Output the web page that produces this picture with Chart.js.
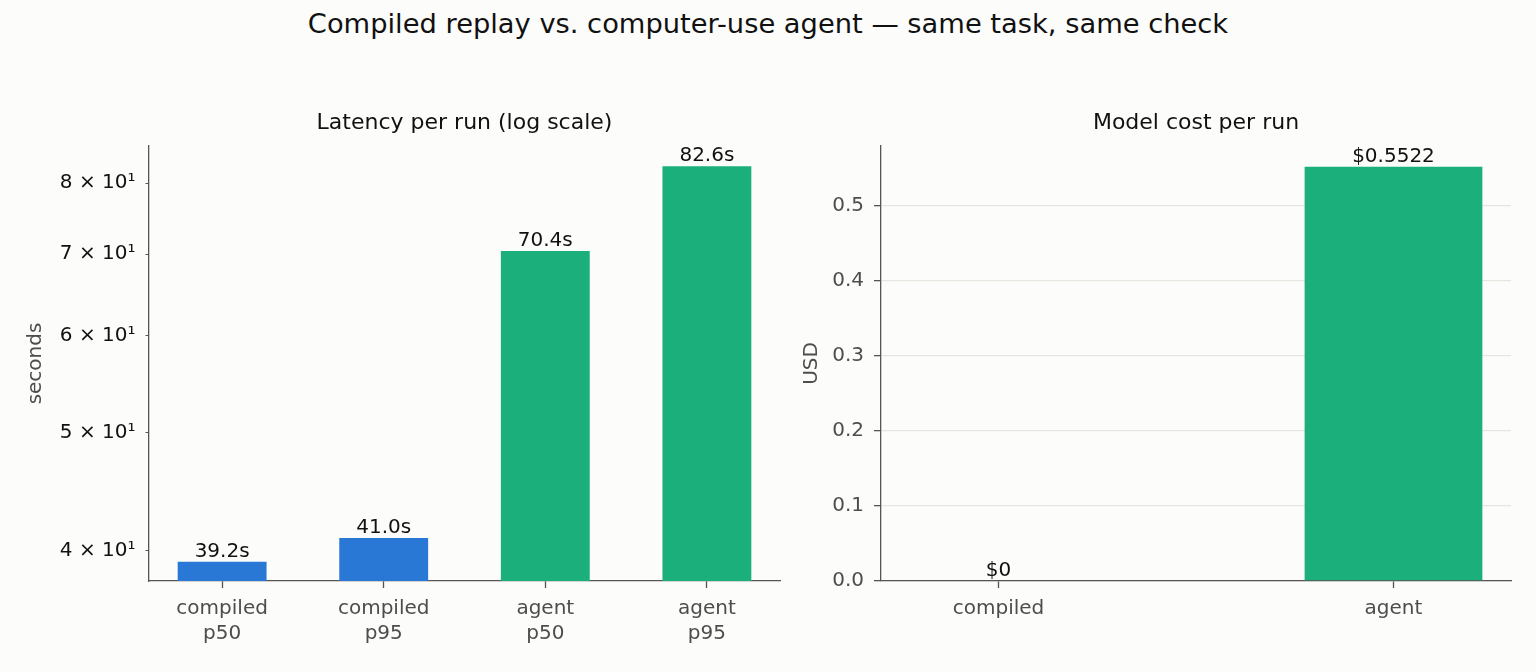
<!DOCTYPE html>
<html>
<head>
<meta charset="utf-8">
<script src="https://cdn.jsdelivr.net/npm/chart.js@4"></script>
<style>
  html, body { margin: 0; padding: 0; background: #fcfcfa; }
  body { width: 1536px; height: 672px; position: relative; overflow: hidden; font-family: "DejaVu Sans", sans-serif; }
  #suptitle { position: absolute; left: 0; top: 8px; width: 1536px; text-align: center; font-size: 27.3px; line-height: 32px; color: #111; }
  .box { position: absolute; top: 0; height: 672px; }
  #left { left: 0; width: 800px; }
  #right { left: 790px; width: 746px; }
</style>
</head>
<body>
<div id="suptitle">Compiled replay vs. computer-use agent — same task, same check</div>
<div class="box" id="left"><canvas id="latencyChart"></canvas></div>
<div class="box" id="right"><canvas id="costChart"></canvas></div>
<script>
// data
const latencyLabels = ['compiled\np50', 'compiled\np95', 'agent\np50', 'agent\np95'];
const latencySeconds = [39.2, 41.0, 70.4, 82.6];
const latencyTicks = [40, 50, 60, 70, 80];
const costLabels = ['compiled', 'agent'];
const costUsd = [0, 0.5522];
const costTicks = [0, 0.1, 0.2, 0.3, 0.4, 0.5];

const BLUE = '#2a78d6';
const GREEN = '#1bb07b';
const AXIS = '#555555';
const GREY_TEXT = '#4d4d4d';
const FONT = 'DejaVu Sans';

Chart.defaults.font.family = FONT;
Chart.defaults.animation = false;

// labels over the bars
const barLabels = {
  id: 'barLabels',
  afterDatasetsDraw(chart, args, opts) {
    const ctx = chart.ctx;
    const meta = chart.getDatasetMeta(0);
    const values = chart.data.datasets[0].data;
    ctx.save();
    ctx.font = '20px "' + FONT + '"';
    ctx.fillStyle = '#111';
    ctx.textAlign = 'center';
    ctx.textBaseline = 'alphabetic';
    meta.data.forEach((bar, i) => {
      ctx.fillText(opts.format(values[i].y), bar.x, bar.y - 5);
    });
    ctx.restore();
  }
};

function xAxis(labels, min, max) {
  return {
    type: 'linear',
    min: min,
    max: max,
    offset: false,
    afterBuildTicks: s => { s.ticks = labels.map((l, i) => ({ value: i })); },
    afterFit: s => { s.height = 91; },
    ticks: {
      autoSkip: false,
      maxRotation: 0,
      padding: 8,
      color: GREY_TEXT,
      font: { size: 20, lineHeight: 1.25 },
      callback: v => labels[v] ? labels[v].split('\n') : ''
    },
    grid: { offset: false, drawOnChartArea: false, tickLength: 7, tickColor: AXIS, tickWidth: 1.3 },
    border: { color: AXIS, width: 1.3 }
  };
}

// title sits over the plot area only (fullSize off)
function titleOpts(text) {
  return {
    display: true,
    fullSize: false,
    text: text,
    color: '#111',
    font: { size: 22, weight: 'normal', lineHeight: 1.2 },
    padding: { top: 0, bottom: 9.6 }
  };
}

new Chart(document.getElementById('latencyChart'), {
  type: 'bar',
  data: {
    datasets: [{
      data: latencySeconds.map((v, i) => ({ x: i, y: v })),
      backgroundColor: latencySeconds.map((v, i) => latencyLabels[i].startsWith('agent') ? GREEN : BLUE),
      barPercentage: 0.55,
      categoryPercentage: 1
    }]
  },
  options: {
    responsive: true,
    maintainAspectRatio: false,
    layout: { padding: { top: 110, right: 20, bottom: 0, left: 0 } },
    plugins: {
      legend: { display: false },
      tooltip: { enabled: false },
      title: titleOpts('Latency per run (log scale)'),
      barLabels: { format: v => v.toFixed(1) + 's' }
    },
    scales: {
      x: xAxis(latencyLabels, -0.4525, 3.4525),
      y: {
        type: 'logarithmic',
        min: 37.8,
        max: 85.8,
        afterBuildTicks: s => { s.ticks = latencyTicks.map(v => ({ value: v })); },
        afterFit: s => { s.width = 149; },
        ticks: {
          padding: 10,
          color: '#111',
          font: { size: 20 },
          callback: v => (v / 10) + ' × 10¹'
        },
        grid: { drawOnChartArea: false, tickLength: 3.5, tickColor: AXIS, tickWidth: 1 },
        border: { color: AXIS, width: 1.3 },
        title: { display: true, text: 'seconds', color: GREY_TEXT, font: { size: 20 }, padding: { top: 24, bottom: 0 } }
      }
    }
  },
  plugins: [barLabels]
});

new Chart(document.getElementById('costChart'), {
  type: 'bar',
  data: {
    datasets: [{
      data: costUsd.map((v, i) => ({ x: i, y: v })),
      backgroundColor: [BLUE, GREEN],
      barPercentage: 0.45,
      categoryPercentage: 1
    }]
  },
  options: {
    responsive: true,
    maintainAspectRatio: false,
    layout: { padding: { top: 110, right: 25, bottom: 0, left: 0 } },
    plugins: {
      legend: { display: false },
      tooltip: { enabled: false },
      title: titleOpts('Model cost per run'),
      barLabels: { format: v => '$' + v }
    },
    scales: {
      x: xAxis(costLabels, -0.2975, 1.2975),
      y: {
        type: 'linear',
        min: 0,
        max: 0.58,
        afterBuildTicks: s => { s.ticks = costTicks.map(v => ({ value: v })); },
        afterFit: s => { s.width = 91; },
        ticks: {
          padding: 10,
          color: GREY_TEXT,
          font: { size: 20 },
          callback: v => v.toFixed(1)
        },
        grid: { color: '#e6e6e1', lineWidth: 1.3, tickLength: 7, tickColor: AXIS, tickWidth: 1.3 },
        border: { color: AXIS, width: 1.3 },
        title: { display: true, text: 'USD', color: GREY_TEXT, font: { size: 20 }, padding: { top: 10, bottom: 0 } }
      }
    }
  },
  plugins: [barLabels]
});
</script>
</body>
</html>
